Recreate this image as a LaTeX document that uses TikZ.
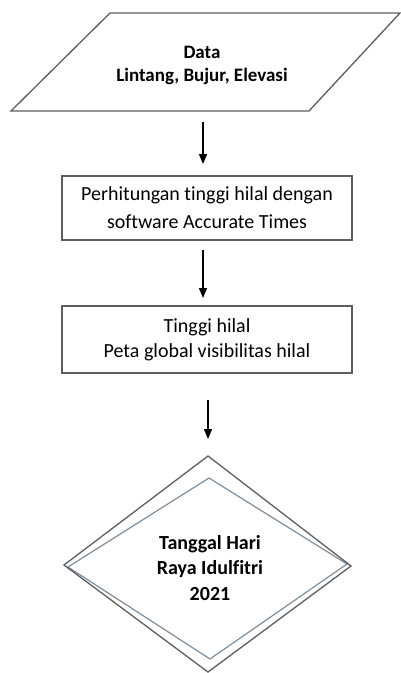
\documentclass[tikz,border=0pt]{standalone}
\usepackage{fontspec}
\setmainfont{Carlito}[Ligatures=NoCommon]
\usetikzlibrary{arrows.meta}
\definecolor{edgegray}{HTML}{5E5E5E}
\definecolor{innerblue}{HTML}{7D8D9B}
\tikzset{
  outline/.style={draw=edgegray, line width=1.3pt, line join=miter},
  innerline/.style={draw=innerblue, line width=1.2pt},
  procbox/.style={outline, rectangle, minimum width=290pt, minimum height=65pt, align=center, font=\fontsize{20}{25}\selectfont, inner sep=0pt},
  boldtxt/.style={align=center, font=\fontsize{19}{23}\selectfont\bfseries, inner sep=0pt},
  arr/.style={draw=black, line width=1.2pt, -{Triangle[length=10pt,width=8pt]}}
}
\begin{document}
\begin{tikzpicture}[x=1pt,y=-1pt]
\useasboundingbox (0,0) rectangle (401,673);
% parallelogram
\coordinate (pa) at (110,13);
\coordinate (pb) at (400,13);
\coordinate (pc) at (309,111);
\coordinate (pd) at (11,111);
\draw[outline] (pa) -- (pb) -- (pc) -- (pd) -- cycle;
\node[boldtxt] (data) at (202,65) {Data\\Lintang, Bujur, Elevasi};
% boxes
\node[procbox, minimum height=64pt, font=\fontsize{20}{28}\selectfont] (b1) at (207,208) {Perhitungan tinggi hilal dengan\\software Accurate Times};
\node[procbox, minimum height=67pt] (b2) at (207,339.5) {Tinggi hilal\\Peta global visibilitas hilal};
% diamond
\coordinate (dt) at (208,456);
\coordinate (dr) at (351,566);
\coordinate (db) at (208,672);
\coordinate (dl) at (64,565);
\coordinate (it) at (209,478);
\coordinate (ir) at (347,564);
\coordinate (ib) at (210,659);
\coordinate (il) at (68,567);
\draw[innerline] (it) -- (ir) -- (ib) -- (il) -- cycle;
\draw[outline] (dt) -- (dr) -- (db) -- (dl) -- cycle;
\node[boldtxt, font=\fontsize{20}{25.5}\selectfont\bfseries] (res) at (210,568) {Tanggal Hari\\Raya Idulfitri\\2021};
% arrows
\coordinate (a1s) at (203,122);
\coordinate (a1e) at (203,164);
\coordinate (a2s) at (203,250);
\coordinate (a2e) at (203,298);
\coordinate (a3s) at (208,400);
\coordinate (a3e) at (208,439);
\draw[arr] (a1s) -- (a1e);
\draw[arr] (a2s) -- (a2e);
\draw[arr] (a3s) -- (a3e);
\end{tikzpicture}
\end{document}
